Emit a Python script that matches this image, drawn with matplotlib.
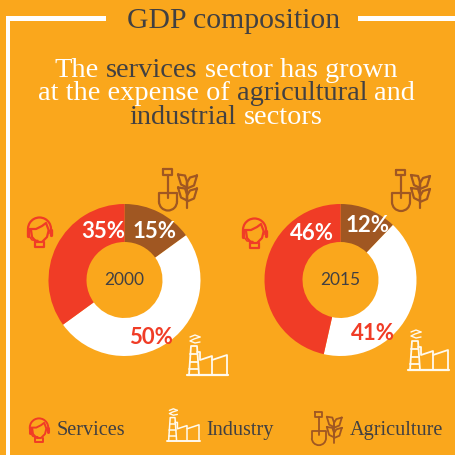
#!/usr/bin/env python3
# GDP composition, two donuts plus hand drawn icons

import matplotlib
matplotlib.use('Agg')
import matplotlib.pyplot as plt
from matplotlib.patches import Arc

W, H = 456, 455

years = ['2000', '2015']
sectors = ['Agriculture', 'Industry', 'Services']
values_2000 = [15, 50, 35]
values_2015 = [12, 41, 46]

ORANGE = '#FAA71C'
RED = '#F03C26'
BROWN = '#A05722'
DARK = '#414042'
WHITE = '#FFFFFF'

SERIF = 'Liberation Serif'
SANS = 'Lato'

fig = plt.figure(figsize=(W / 100, H / 100), dpi=100, facecolor=ORANGE)
ax = fig.add_axes([0, 0, 1, 1])


def fy(y):
    # picture coordinates have y going down
    return H - y


def stroke(pts, color, lw=1.5, ox=0, oy=0, s=1):
    xs = [ox + p[0] * s for p in pts]
    ys = [fy(oy + p[1] * s) for p in pts]
    ax.plot(xs, ys, color=color, lw=lw, solid_capstyle='round', solid_joinstyle='round')


def segments(parts, cx, y, size):
    # one centred line with a colour per word group
    r = fig.canvas.get_renderer()
    items = [ax.text(0, fy(y), t, color=c, fontsize=size, family=SERIF, va='baseline') for t, c in parts]
    widths = [i.get_window_extent(r).width for i in items]
    space = size * 0.25 * 100 / 72
    x = cx - (sum(widths) + space * (len(items) - 1)) / 2
    for item, w in zip(items, widths):
        item.set_x(x)
        x += w + space


def shovel_plant(ox, oy, s=1.0, lw=1.6):
    c = BROWN
    # shovel
    stroke([(5, 0.5), (14, 0.5), (14, 6), (5, 6), (5, 0.5)], c, lw, ox, oy, s)
    stroke([(9.7, 6), (9.7, 29)], c, lw, ox, oy, s)
    stroke([(1, 33), (1, 24), (19, 24), (19, 33)], c, lw, ox, oy, s)
    ax.add_patch(Arc((ox + 10 * s, fy(oy + 33 * s)), 18 * s, 18 * s, theta1=180, theta2=360,
                     color=c, lw=lw))
    # plant
    stroke([(29, 12), (29, 39)], c, lw, ox, oy, s)
    for dy in [0, 13]:
        stroke([(20, 6 + dy), (27, 7 + dy), (29, 13 + dy), (29, 19 + dy), (23, 16 + dy), (20, 6 + dy)],
               c, lw, ox, oy, s)
        stroke([(39, 7 + dy), (32, 9 + dy), (29, 14 + dy), (29, 20 + dy), (36, 17 + dy), (39, 7 + dy)],
               c, lw, ox, oy, s)


def factory(ox, oy, s=1.0, lw=1.3):
    c = '#FFFAEE'
    stroke([(0, 41), (41, 41)], c, lw + 0.3, ox, oy, s)
    stroke([(2, 41), (4, 12), (10, 12), (12, 41)], c, lw, ox, oy, s)
    stroke([(3.5, 20), (10.5, 20)], c, lw, ox, oy, s)
    stroke([(3, 28), (11, 28)], c, lw, ox, oy, s)
    stroke([(2.5, 35), (11.5, 35)], c, lw, ox, oy, s)
    stroke([(10, 18), (13, 18), (13, 26), (25, 22), (25, 41)], c, lw, ox, oy, s)
    stroke([(25, 26), (40, 21), (40, 41)], c, lw, ox, oy, s)
    stroke([(3, 3), (8, 1), (13, 3)], c, 1.0, ox, oy, s)
    stroke([(13, 3), (7, 5), (3, 7), (8, 9), (13, 8)], c, 1.0, ox, oy, s)


def head(ox, oy, s=1.0, lw=1.6):
    c = RED
    ax.add_patch(Arc((ox + 12.5 * s, fy(oy + 12 * s)), 23 * s, 23 * s, theta1=-25, theta2=205,
                     color=c, lw=lw))
    stroke([(2.5, 12), (9, 12), (15, 9), (19, 6), (22, 14)], c, lw, ox, oy, s)
    stroke([(4, 13), (5, 20), (9.5, 25), (15, 25), (20, 20), (21.5, 14)], c, lw, ox, oy, s)
    stroke([(8, 24), (8, 30), (17, 30), (17, 25)], c, lw, ox, oy, s)
    stroke([(1.2, 13), (1.2, 19)], c, lw + 0.8, ox, oy, s)
    stroke([(23.8, 13), (23.8, 18)], c, lw + 0.8, ox, oy, s)
    stroke([(2, 19), (5, 23), (11, 23.5)], c, 1.1, ox, oy, s)


# frame round the panel
ax.fill_between([6, 10], 0, fy(16), color=WHITE, lw=0)
ax.fill_between([6, 106], fy(21), fy(16), color=WHITE, lw=0)
ax.fill_between([358, W], fy(21), fy(16), color=WHITE, lw=0)

# headings
ax.text(233.5, fy(28), 'GDP composition', color=DARK, fontsize=21.4, family=SERIF,
        ha='center', va='baseline')
segments([('The', WHITE), ('services', DARK), ('sector has grown', WHITE)], 226, 77, 20.4)
segments([('at the expense of', WHITE), ('agricultural', DARK), ('and', WHITE)], 226.5, 100.5, 20.4)
segments([('industrial', DARK), ('sectors', WHITE)], 226, 124, 20.4)

# donuts
centers = [(124.5, 280), (340.5, 280)]
label_pos_2000 = [(154.5, 231), (151, 338), (103, 231)]
label_pos_2015 = [(367.5, 225), (372.5, 334), (312, 233.5)]
label_colors = [WHITE, RED, WHITE]
for center, year, vals, pos in zip(centers, years, [values_2000, values_2015],
                                   [label_pos_2000, label_pos_2015]):
    ax.pie(vals, colors=[BROWN, WHITE, RED], startangle=90, counterclock=False,
           center=(center[0], fy(center[1])), radius=76,
           wedgeprops=dict(width=38, linewidth=0), frame=True)
    ax.text(center[0], fy(center[1]), year, color=DARK, fontsize=12.5, family=SANS,
            ha='center', va='center')
    for v, p, c in zip(vals, pos, label_colors):
        ax.text(p[0], fy(p[1]), f'{v}%', color=c, fontsize=16, family=SANS, weight='bold',
                ha='center', va='center')

ax.set_xlim(0, W)
ax.set_ylim(0, H)
ax.set_aspect('auto')
ax.axis('off')

# icons next to the donuts
shovel_plant(158, 168.5)
shovel_plant(391, 169)
factory(187, 334)
factory(408, 329)
head(27, 217)
head(242, 218)

# legend row
head(29, 418, 0.8, 1.4)
factory(167, 408, 0.8, 1.1)
shovel_plant(311, 412, 0.79, 1.3)
for x, name in zip([57, 206, 350], ['Services', 'Industry', 'Agriculture']):
    ax.text(x, fy(435), name, color=DARK, fontsize=14.6, family=SERIF, va='baseline')

fig.savefig('out.png', dpi=100, facecolor=ORANGE)
